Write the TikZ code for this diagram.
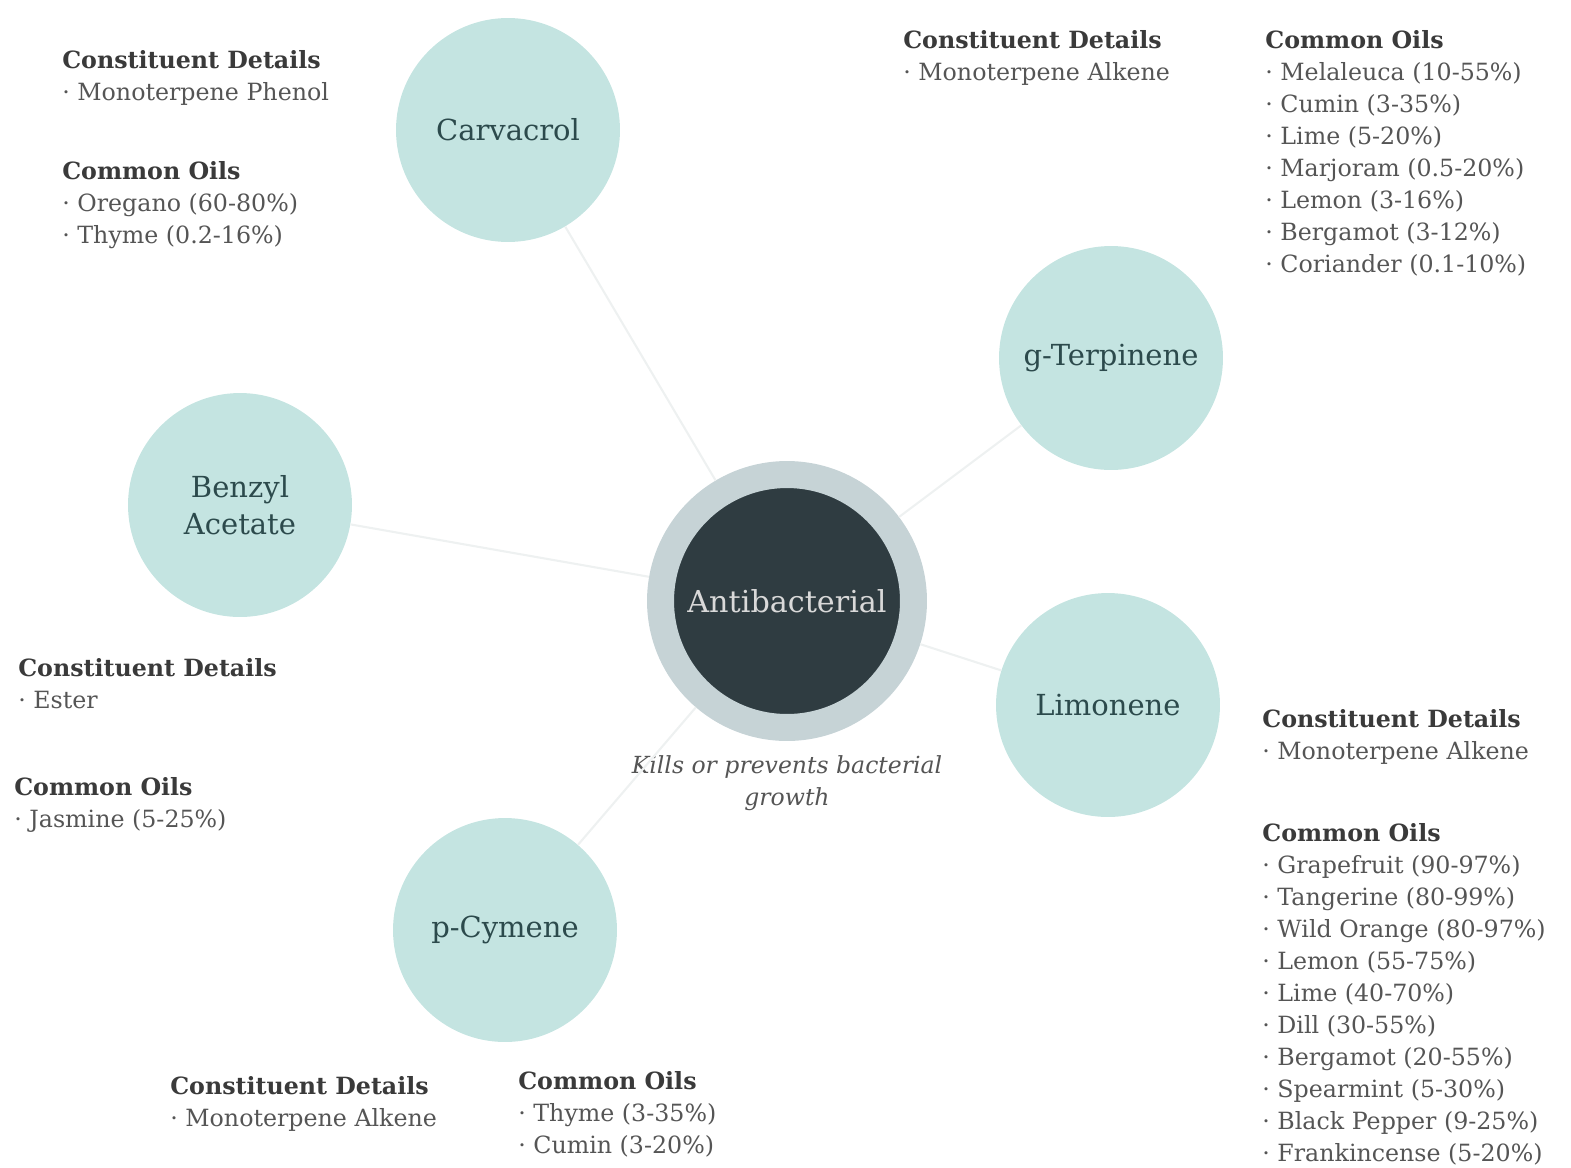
\documentclass[tikz,border=0pt]{standalone}
\usepackage{fontspec}
\setmainfont{DejaVu Serif}
\usetikzlibrary{positioning}
\definecolor{herbfill}{HTML}{C4E4E1}
\definecolor{herbtext}{HTML}{2C4A4C}
\definecolor{coredark}{HTML}{2F3C41}
\definecolor{corering}{HTML}{C6D3D6}
\definecolor{headgray}{HTML}{3A3A3A}
\definecolor{itemgray}{HTML}{555555}
\definecolor{linkgray}{HTML}{EEF1F1}
\tikzset{
  herb/.style={circle, fill=herbfill, minimum size=4.48cm, inner sep=0pt, align=center, text=herbtext, font=\fontsize{16.5}{21}\selectfont},
  core/.style={circle, fill=coredark, draw=corering, line width=0.54cm, minimum size=5.06cm, inner sep=0pt, text=white!85!black, font=\fontsize{17.2}{20}\selectfont},
  info/.style={anchor=north west, inner sep=0pt, align=left, text=itemgray, font=\fontsize{13.5}{18.2}\selectfont},
  link/.style={draw=linkgray, line width=1.2pt}
}
\newcommand{\infohead}[1]{{\bfseries\color{headgray}#1}}

\begin{document}
\begin{tikzpicture}[x=0.02cm, y=-0.02cm]
  \useasboundingbox (0,0) rectangle (1571,1167);
  % centre
  \node[core] (anti) at (787,601) {Antibacterial};
  \node[below=0.28cm of anti, inner sep=0pt, align=center, text=itemgray, font=\itshape\fontsize{13.4}{18.2}\selectfont] (effect) {Kills or prevents bacterial\\growth};
  % constituents
  \node[herb] (carv)   at (508,130)  {Carvacrol};
  \node[herb] (gterp)  at (1111,358) {g-Terpinene};
  \node[herb] (benzyl) at (240,505)  {Benzyl\\Acetate};
  \node[herb] (limo)   at (1108,705) {Limonene};
  \node[herb] (pcym)   at (505,930)  {p-Cymene};
  \path[link]
    (anti) edge (carv)
    (anti) edge (gterp)
    (anti) edge (benzyl)
    (anti) edge (limo)
    (anti) edge (pcym);
  % details
  \node[info] (carvDet)    at (62,50)    {\infohead{Constituent Details}\\· Monoterpene Phenol};
  \node[info] (carvOils)   at (62,161)   {\infohead{Common Oils}\\· Oregano (60-80\%)\\· Thyme (0.2-16\%)};
  \node[info] (gterpDet)   at (903,30)   {\infohead{Constituent Details}\\· Monoterpene Alkene};
  \node[info] (gterpOils)  at (1265,30)  {\infohead{Common Oils}\\· Melaleuca (10-55\%)\\· Cumin (3-35\%)\\· Lime (5-20\%)\\· Marjoram (0.5-20\%)\\· Lemon (3-16\%)\\· Bergamot (3-12\%)\\· Coriander (0.1-10\%)};
  \node[info] (benzylDet)  at (18,658)   {\infohead{Constituent Details}\\· Ester};
  \node[info] (benzylOils) at (14,777)   {\infohead{Common Oils}\\· Jasmine (5-25\%)};
  \node[info] (limoDet)    at (1262,709) {\infohead{Constituent Details}\\· Monoterpene Alkene};
  \node[info] (limoOils)   at (1262,823) {\infohead{Common Oils}\\· Grapefruit (90-97\%)\\· Tangerine (80-99\%)\\· Wild Orange (80-97\%)\\· Lemon (55-75\%)\\· Lime (40-70\%)\\· Dill (30-55\%)\\· Bergamot (20-55\%)\\· Spearmint (5-30\%)\\· Black Pepper (9-25\%)\\· Frankincense (5-20\%)};
  \node[info] (pcymDet)    at (170,1076) {\infohead{Constituent Details}\\· Monoterpene Alkene};
  \node[info] (pcymOils)   at (518,1071) {\infohead{Common Oils}\\· Thyme (3-35\%)\\· Cumin (3-20\%)};
\end{tikzpicture}
\end{document}
